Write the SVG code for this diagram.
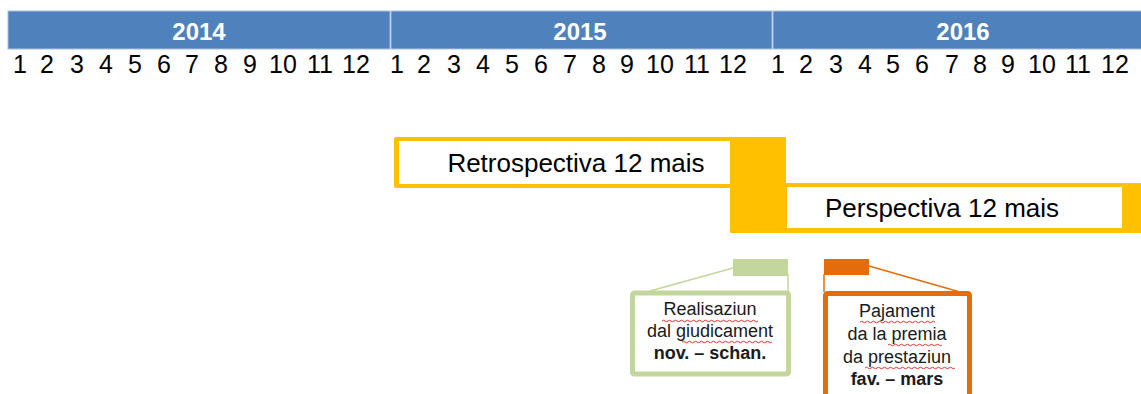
<svg xmlns="http://www.w3.org/2000/svg" width="1141" height="394" viewBox="0 0 1141 394">
<style>
.yr{fill:#4f81bd;stroke:#a9c0dd;stroke-width:1}
.yt{font-family:"Liberation Sans",Arial,sans-serif;font-weight:bold;font-size:24px;fill:#fff;text-anchor:middle}
.m{font-family:"Liberation Sans",Arial,sans-serif;font-size:25px;fill:#000;text-anchor:middle}
.big{font-family:"Liberation Sans",Arial,sans-serif;font-size:26px;fill:#000;text-anchor:middle}
.c{font-family:"Liberation Sans",Arial,sans-serif;font-size:18px;fill:#1a1a1a;text-anchor:middle}
.b{font-weight:bold}
.sq{fill:none;stroke:#e03030;stroke-width:1}
</style>
<g id="years">
<rect class="yr" x="8" y="11" width="382" height="38"/>
<rect class="yr" x="391" y="11" width="381" height="38"/>
<rect class="yr" x="773" y="11" width="370" height="38"/>
<text class="yt" x="199" y="40">2014</text>
<text class="yt" x="580" y="40">2015</text>
<text class="yt" x="963" y="40">2016</text>
</g>
<g id="months">
<text class="m" x="20" y="73">1</text><text class="m" x="47" y="73">2</text><text class="m" x="77" y="73">3</text><text class="m" x="106" y="73">4</text><text class="m" x="135" y="73">5</text><text class="m" x="164" y="73">6</text><text class="m" x="192" y="73">7</text><text class="m" x="221" y="73">8</text><text class="m" x="250" y="73">9</text><text class="m" x="283" y="73">10</text><text class="m" x="320" y="73">11</text><text class="m" x="356" y="73">12</text>
<text class="m" x="397" y="73">1</text><text class="m" x="424" y="73">2</text><text class="m" x="454" y="73">3</text><text class="m" x="483" y="73">4</text><text class="m" x="512" y="73">5</text><text class="m" x="541" y="73">6</text><text class="m" x="570" y="73">7</text><text class="m" x="599" y="73">8</text><text class="m" x="627" y="73">9</text><text class="m" x="660" y="73">10</text><text class="m" x="697" y="73">11</text><text class="m" x="733" y="73">12</text>
<text class="m" x="778" y="73">1</text><text class="m" x="806" y="73">2</text><text class="m" x="836" y="73">3</text><text class="m" x="865" y="73">4</text><text class="m" x="893" y="73">5</text><text class="m" x="922" y="73">6</text><text class="m" x="952" y="73">7</text><text class="m" x="980" y="73">8</text><text class="m" x="1008" y="73">9</text><text class="m" x="1042" y="73">10</text><text class="m" x="1078" y="73">11</text><text class="m" x="1115" y="73">12</text>
</g>
<g id="retrospectiva">
<rect x="394" y="137" width="392" height="51" rx="2" fill="#ffc000"/>
<rect x="730" y="137" width="56" height="96" rx="2" fill="#ffc000"/>
<rect x="399" y="141" width="331" height="43" fill="#fff"/>
<text class="big" x="576" y="172">Retrospectiva 12 mais</text>
</g>
<g id="perspectiva">
<rect x="730" y="183" width="420" height="50" rx="2" fill="#ffc000"/>
<rect x="787" y="187" width="335" height="41" fill="#fff"/>
<text class="big" x="942" y="217">Perspectiva 12 mais</text>
</g>
<g id="connectors">
<line x1="733" y1="268" x2="650" y2="291" stroke="#c3d69b" stroke-width="1.5"/>
<line x1="788" y1="274" x2="788" y2="292" stroke="#c3d69b" stroke-width="1.5"/>
<line x1="869" y1="266" x2="960" y2="292" stroke="#e46c0a" stroke-width="1.5"/>
<line x1="824" y1="274" x2="824" y2="292" stroke="#e46c0a" stroke-width="1.5"/>
</g>
<g id="realisaziun">
<rect x="733" y="259" width="55" height="17" fill="#c3d69b"/>
<rect x="632.5" y="293" width="156" height="81" rx="2" fill="#fff" stroke="#c3d69b" stroke-width="5"/>
<text class="c" x="710" y="315">Realisaziun</text>
<text class="c" x="710" y="337">dal giudicament</text>
<text class="c b" x="710" y="359">nov. – schan.</text>
<path class="sq" d="M662 321q1.5 -1.5 3 0t3 0t3 0t3 0t3 0t3 0t3 0t3 0t3 0t3 0t3 0t3 0t3 0t3 0t3 0t3 0t3 0t3 0t3 0t3 0t3 0t3 0t3 0t3 0t3 0t3 0t3 0t3 0t3 0t3 0t3 0t3 0"/>
<path class="sq" d="M682 342q1.5 -1.5 3 0t3 0t3 0t3 0t3 0t3 0t3 0t3 0t3 0t3 0t3 0t3 0t3 0t3 0t3 0t3 0t3 0t3 0t3 0t3 0t3 0t3 0t3 0t3 0t3 0t3 0t3 0t3 0t3 0t3 0"/>
</g>
<g id="pajament">
<rect x="824" y="259" width="45" height="16" fill="#e46c0a"/>
<rect x="825.5" y="293.5" width="144" height="110" rx="2" fill="#fff" stroke="#e46c0a" stroke-width="5"/>
<text class="c" x="897" y="317">Pajament</text>
<text class="c" x="897" y="340">da la premia</text>
<text class="c" x="897" y="363">da prestaziun</text>
<text class="c b" x="897" y="385">fav. – mars</text>
<path class="sq" d="M860 322q1.5 -1.5 3 0t3 0t3 0t3 0t3 0t3 0t3 0t3 0t3 0t3 0t3 0t3 0t3 0t3 0t3 0t3 0t3 0t3 0t3 0t3 0t3 0t3 0t3 0t3 0t3 0"/>
<path class="sq" d="M888 345q1.5 -1.5 3 0t3 0t3 0t3 0t3 0t3 0t3 0t3 0t3 0t3 0t3 0t3 0t3 0t3 0t3 0t3 0t3 0t3 0"/>
<path class="sq" d="M865 368q1.5 -1.5 3 0t3 0t3 0t3 0t3 0t3 0t3 0t3 0t3 0t3 0t3 0t3 0t3 0t3 0t3 0t3 0t3 0t3 0t3 0t3 0t3 0t3 0t3 0t3 0t3 0t3 0t3 0t3 0t3 0t3 0"/>
</g>
</svg>
